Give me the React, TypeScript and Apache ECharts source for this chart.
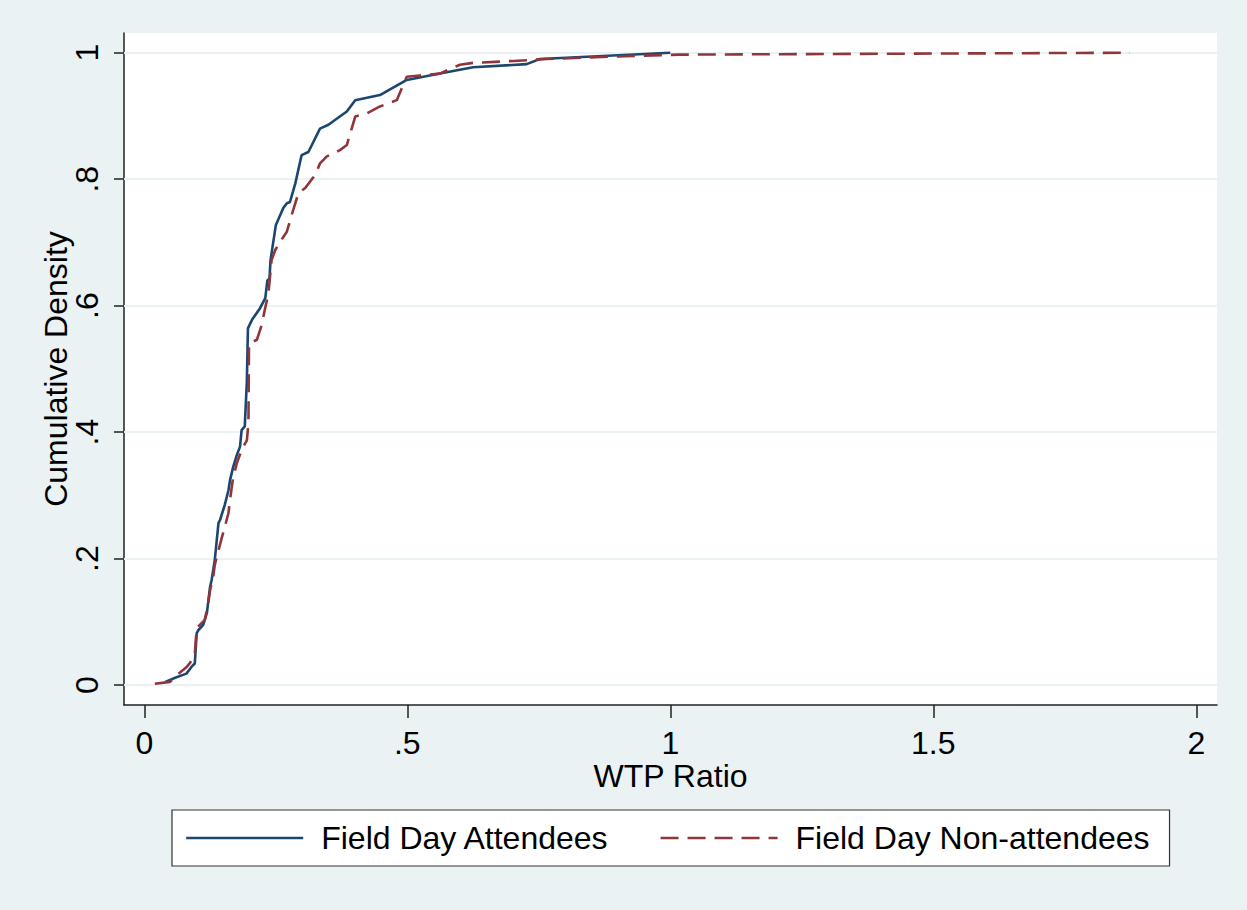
import React, { useEffect, useRef } from "react";
import * as echarts from "echarts";

// Empirical CDF of the WTP ratio, Field Day attendees
const attendeesX = [
  0.04, 0.06, 0.08, 0.09, 0.096, 0.0996, 0.103, 0.112, 0.119, 0.125, 0.128, 0.134, 0.141,
  0.144, 0.153, 0.16, 0.163, 0.169, 0.176, 0.182, 0.185, 0.191, 0.195, 0.197, 0.205, 0.22,
  0.23, 0.234, 0.238, 0.24, 0.25, 0.264, 0.271, 0.277, 0.287, 0.299, 0.312, 0.334, 0.35,
  0.385, 0.401, 0.448, 0.499, 0.562, 0.625, 0.727, 0.752, 1.0,
];
const attendeesY = [
  0.005, 0.012, 0.018, 0.029, 0.034, 0.082, 0.087, 0.095, 0.114, 0.155, 0.166, 0.198, 0.256,
  0.261, 0.285, 0.308, 0.324, 0.345, 0.364, 0.377, 0.403, 0.409, 0.48, 0.564, 0.578, 0.596,
  0.612, 0.64, 0.643, 0.672, 0.727, 0.754, 0.762, 0.764, 0.793, 0.838, 0.843, 0.88, 0.886,
  0.907, 0.925, 0.933, 0.957, 0.967, 0.977, 0.982, 0.99, 1.0,
];

// Empirical CDF of the WTP ratio, Field Day non-attendees
const nonAttendeesX = [
  0.02, 0.049, 0.065, 0.081, 0.087, 0.096, 0.0996, 0.115, 0.122, 0.125, 0.131, 0.134, 0.141,
  0.147, 0.153, 0.16, 0.163, 0.169, 0.176, 0.185, 0.195, 0.198, 0.199, 0.214, 0.223, 0.229,
  0.236, 0.242, 0.249, 0.258, 0.271, 0.283, 0.293, 0.306, 0.325, 0.334, 0.347, 0.372, 0.385,
  0.401, 0.423, 0.448, 0.48, 0.499, 0.524, 0.562, 0.6, 0.625, 0.702, 0.765, 0.892, 1.018, 1.874,
];
const nonAttendeesY = [
  0.002, 0.005, 0.018, 0.029, 0.035, 0.05, 0.09, 0.103, 0.132, 0.15, 0.171, 0.19, 0.213,
  0.232, 0.25, 0.272, 0.293, 0.329, 0.351, 0.372, 0.387, 0.414, 0.54, 0.546, 0.569, 0.593,
  0.62, 0.672, 0.688, 0.701, 0.717, 0.751, 0.778, 0.786, 0.807, 0.825, 0.836, 0.846, 0.854,
  0.899, 0.904, 0.915, 0.925, 0.962, 0.964, 0.967, 0.981, 0.984, 0.987, 0.99, 0.994, 0.997, 1.0,
];

const xTickValues = [0, 0.5, 1, 1.5, 2];
const xTickLabels = ["0", ".5", "1", "1.5", "2"];
const yTickValues = [0, 0.2, 0.4, 0.6, 0.8, 1];
const yTickLabels = ["0", ".2", ".4", ".6", ".8", "1"];

const seriesNames = ["Field Day Attendees", "Field Day Non-attendees"];

const FONT = "'Liberation Sans', Arial, Helvetica, sans-serif";
const BG = "#eaf2f3";
const BLUE = "#1a476f";
const RED = "#90353b";
const AXIS = "#222222";

function lookup(values: number[], labels: string[], v: number): string {
  let best = 0;
  for (let i = 1; i < values.length; i++) {
    if (Math.abs(values[i] - v) < Math.abs(values[best] - v)) best = i;
  }
  return labels[best];
}

function pairs(xs: number[], ys: number[]): number[][] {
  return xs.map((x, i) => [x, ys[i]]);
}

export default function App() {
  const ref = useRef<HTMLDivElement>(null);

  useEffect(() => {
    if (!ref.current) return;
    const chart = echarts.init(ref.current, null, { renderer: "svg" });
    chart.setOption({
      animation: false,
      backgroundColor: BG,
      textStyle: { fontFamily: FONT },
      grid: {
        left: 124,
        right: 30,
        top: 33,
        bottom: 205,
        show: true,
        backgroundColor: "#ffffff",
        borderWidth: 0,
      },
      xAxis: {
        type: "value",
        min: -0.0386,
        max: 2.0394,
        name: "WTP Ratio",
        nameLocation: "middle",
        nameGap: 58,
        nameMoveOverlap: false,
        nameTextStyle: { fontSize: 32, lineHeight: 26, color: "#000", fontFamily: FONT },
        axisLine: { show: true, onZero: false, lineStyle: { color: AXIS, width: 1.5 } },
        axisTick: {
          show: true,
          length: 13,
          customValues: xTickValues,
          lineStyle: { color: AXIS, width: 1.5 },
        },
        axisLabel: {
          customValues: xTickValues,
          fontSize: 32,
          lineHeight: 26,
          color: "#000",
          fontFamily: FONT,
          margin: 25,
          formatter: (v: number) => lookup(xTickValues, xTickLabels, v),
        },
        splitLine: { show: false },
      },
      yAxis: {
        type: "value",
        min: -0.0316,
        max: 1.0312,
        name: "Cumulative Density",
        nameLocation: "middle",
        nameGap: 52,
        nameMoveOverlap: false,
        nameTextStyle: { fontSize: 32, color: "#000", fontFamily: FONT },
        axisLine: { show: true, onZero: false, lineStyle: { color: AXIS, width: 1.5 } },
        axisTick: {
          show: true,
          length: 10,
          customValues: yTickValues,
          lineStyle: { color: AXIS, width: 1.5 },
        },
        axisLabel: {
          customValues: yTickValues,
          rotate: 90,
          fontSize: 32,
          color: "#000",
          fontFamily: FONT,
          margin: 21,
          formatter: (v: number) => lookup(yTickValues, yTickLabels, v),
        },
        splitLine: { show: false },
      },
      legend: {
        data: seriesNames,
        left: 172,
        top: 810,
        orient: "horizontal",
        padding: [12, 20, 12, 13],
        itemWidth: 117,
        itemHeight: 14,
        itemGap: 50,
        backgroundColor: "#ffffff",
        borderColor: "#333333",
        borderWidth: 1.2,
        // line keys only, no marker dot
        itemStyle: { opacity: 0 },
        lineStyle: { width: 2.4 },
        textStyle: {
          fontSize: 32,
          color: "#000",
          fontFamily: FONT,
          padding: [0, 0, 0, 13],
        },
      },
      series: [
        {
          // horizontal reference lines at the y ticks, kept under the curves
          type: "line",
          data: [],
          silent: true,
          z: 1,
          markLine: {
            silent: true,
            z: 1,
            symbol: ["none", "none"],
            label: { show: false },
            lineStyle: { color: BG, width: 2, type: "solid" },
            data: yTickValues.map((v) => ({ yAxis: v })),
          },
        },
        {
          name: seriesNames[0],
          type: "line",
          data: pairs(attendeesX, attendeesY),
          symbol: "none",
          showSymbol: false,
          z: 3,
          lineStyle: { color: BLUE, width: 2.6, type: "solid" },
          itemStyle: { color: BLUE },
        },
        {
          name: seriesNames[1],
          type: "line",
          data: pairs(nonAttendeesX, nonAttendeesY),
          symbol: "none",
          showSymbol: false,
          z: 4,
          lineStyle: { color: RED, width: 2.6, type: [18, 9] },
          itemStyle: { color: RED },
        },
      ],
    });
    return () => chart.dispose();
  }, []);

  return (
    <div
      ref={ref}
      style={{ position: "absolute", left: 0, top: 0, width: 1247, height: 910 }}
    />
  );
}
